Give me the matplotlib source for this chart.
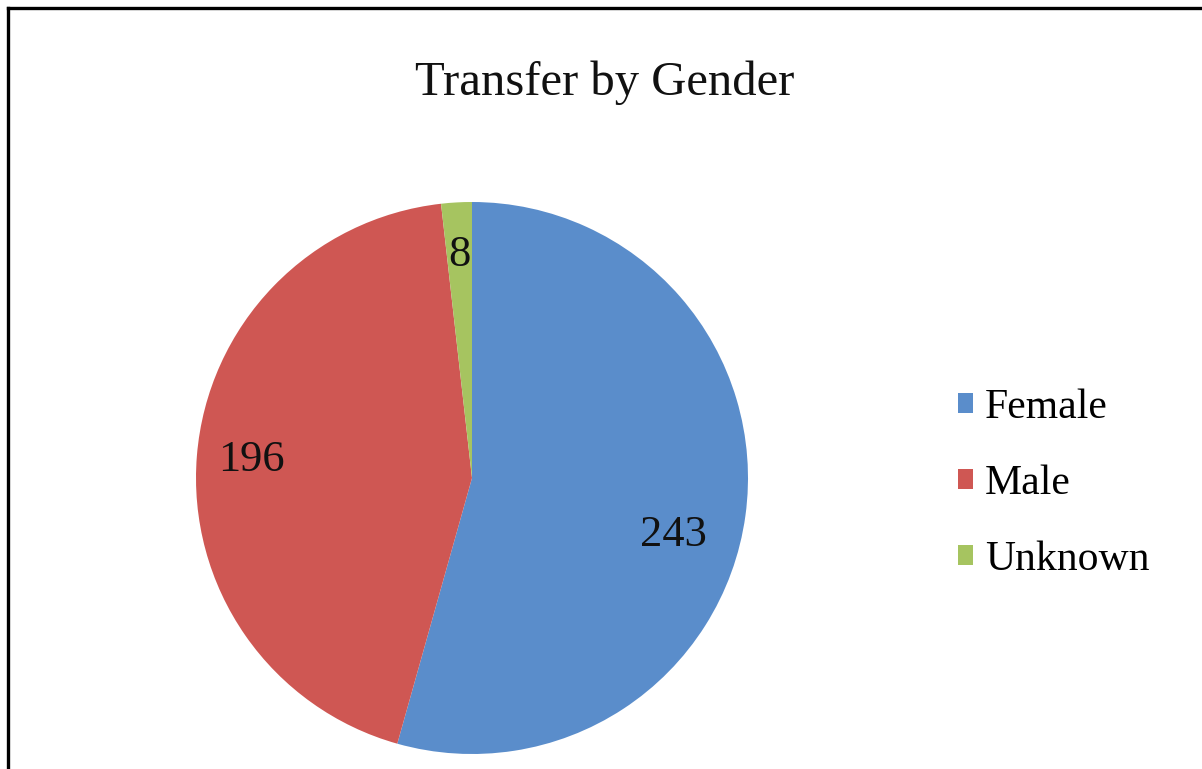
import matplotlib
matplotlib.use("Agg")
import matplotlib.pyplot as plt
from matplotlib.patches import Patch
from matplotlib.lines import Line2D
import numpy as np

# transfer counts by gender
genders = ["Female", "Male", "Unknown"]
counts = [243, 196, 8]
colors = ["#5A8DCB", "#CF5753", "#A6C460"]

# label placement (radius fraction, angle shift in degrees) per slice
label_dist = [0.76, 0.80, 0.81]
label_shift = [-8.0, 0.0, 0.0]

plt.rcParams["font.family"] = ["Liberation Serif", "DejaVu Serif"]

W, H = 1202, 769
fig = plt.figure(figsize=(W / 100, H / 100), dpi=100)

# pie axes: centre (472, 478) px, radius 276 px
cx, cy, r = 472, 478, 276
ax = fig.add_axes([(cx - r) / W, (H - cy - r) / H, 2 * r / W, 2 * r / H])
wedges, _ = ax.pie(counts, colors=colors, startangle=90, counterclock=False,
                   radius=1.0, wedgeprops=dict(linewidth=0))
ax.set_xlim(-1, 1)
ax.set_ylim(-1, 1)
ax.set_aspect("equal")
ax.axis("off")

for w, n, d, s in zip(wedges, counts, label_dist, label_shift):
    ang = np.deg2rad((w.theta1 + w.theta2) / 2 + s)
    ax.text(d * np.cos(ang), d * np.sin(ang), str(n), ha="center",
            va="center", fontsize=32, color="#111111")

fig.text(605 / W, 1 - 95 / H, "Transfer by Gender", ha="center",
         va="baseline", fontsize=35, color="#111111")

handles = [Patch(facecolor=c, edgecolor="none") for c in colors]
fig.legend(handles, genders, loc="center left",
           bbox_to_anchor=(958 / W, 1 - 484 / H), frameon=False,
           fontsize=30, handlelength=0.35, handleheight=0.35,
           handletextpad=0.3, labelspacing=0.9, borderpad=0,
           borderaxespad=0)

# outer frame (left and top edges visible)
x0 = 7.5 / W
y0 = 1 - 7.5 / H
fig.add_artist(Line2D([x0, x0], [0, y0], color="black", lw=2.4,
                      transform=fig.transFigure))
fig.add_artist(Line2D([x0, 1], [y0, y0], color="black", lw=2.4,
                      transform=fig.transFigure))

fig.savefig("out.png", dpi=100, facecolor="white")
